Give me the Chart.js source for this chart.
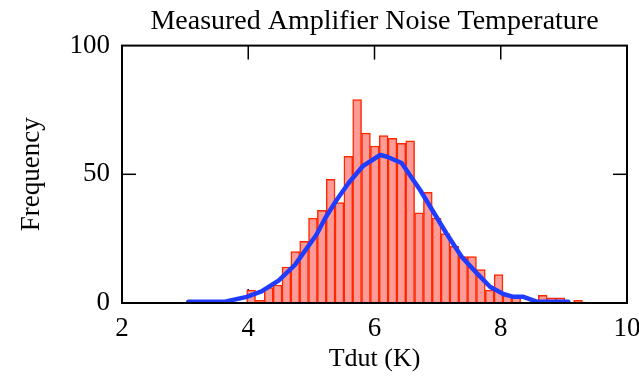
<!DOCTYPE html>
<html><head><meta charset="utf-8">
<script src="https://cdn.jsdelivr.net/npm/chart.js@4"></script>
<style>html,body{margin:0;padding:0;background:#fff}#wrap{width:639px;height:376px}</style>
</head><body><div id="wrap"><canvas id="c" width="639" height="376"></canvas></div>
<script>
// Histogram bin centres (K) and counts
const binCenters = [3.205, 3.345, 3.485, 3.625, 3.765, 3.905, 4.045, 4.185, 4.325, 4.465, 4.605,
  4.745, 4.885, 5.025, 5.165, 5.305, 5.445, 5.585, 5.725, 5.865, 6.005, 6.145, 6.285, 6.425,
  6.565, 6.705, 6.845, 6.985, 7.125, 7.265, 7.405, 7.545, 7.685, 7.825, 7.965, 8.105, 8.245,
  8.385, 8.525, 8.665, 8.805, 8.945, 9.085, 9.225];
const counts = [1, 0, 0, 0, 0, 0, 5, 1, 6, 7, 14, 20, 24, 33, 36, 48, 39, 57, 79, 66, 61, 65, 64,
  62, 63, 35, 43, 33, 27, 22, 18, 18, 13, 5, 11, 3, 2, 0, 0, 3, 2, 2, 0, 1];
// Fitted curve (blue)
const fitX = [3.05, 3.63, 3.975, 4.21, 4.48, 4.74, 5.08, 5.22, 5.40, 5.59, 5.82, 6.09, 6.19, 6.43,
  6.72, 7.14, 7.38, 7.62, 7.83, 8.04, 8.20, 8.36, 8.57, 9.07];
const fitY = [0.5, 0.5, 2.4, 4.5, 8.7, 14.8, 26.5, 33, 40, 46.6, 53.3, 57.5, 56.9, 54.4,
  44, 27, 18, 11.6, 6.3, 3.5, 2.4, 2.4, 0.5, 0.5];
const xTickValues = [2, 4, 6, 8, 10];
const yTickValues = [0, 50, 100];

const FONT = "'Liberation Serif', 'Times New Roman', serif";

const frame = {
  id: 'frame',
  beforeDatasetsDraw(chart) {
    const {ctx, chartArea: a, scales: {x, y}} = chart;
    ctx.save();
    ctx.strokeStyle = '#000';
    ctx.lineWidth = 1.5;
    const L = 14;
    const seg = (x1, y1, x2, y2) => { ctx.beginPath(); ctx.moveTo(x1, y1); ctx.lineTo(x2, y2); ctx.stroke(); };
    x.ticks.forEach(t => {
      const px = x.getPixelForValue(t.value);
      if (px <= a.left + 1 || px >= a.right - 1) return;
      seg(px, a.bottom, px, a.bottom - L);
      seg(px, a.top, px, a.top + L);
    });
    y.ticks.forEach(t => {
      const py = y.getPixelForValue(t.value);
      if (py <= a.top + 1 || py >= a.bottom - 1) return;
      seg(a.left, py, a.left + L, py);
      seg(a.right, py, a.right - L, py);
    });
    ctx.restore();
  },
  afterDatasetsDraw(chart) {
    const {ctx, chartArea: a} = chart;
    ctx.save();
    ctx.strokeStyle = '#000';
    ctx.lineWidth = 2;
    ctx.strokeRect(a.left, a.top, a.right - a.left, a.bottom - a.top);
    ctx.restore();
  }
};

new Chart(document.getElementById('c'), {
  type: 'bar',
  data: {
    datasets: [
      {
        type: 'line',
        data: fitX.map((v, i) => ({x: v, y: fitY[i]})),
        borderColor: '#1f3cff',
        borderWidth: 4.5,
        pointRadius: 0,
        tension: 0,
        fill: false,
        borderJoinStyle: 'round',
        borderCapStyle: 'round',
        order: 0
      },
      {
        type: 'bar',
        data: binCenters.map((v, i) => ({x: v, y: counts[i]})),
        backgroundColor: 'rgb(255,155,150)',
        borderColor: 'rgb(255,40,0)',
        borderWidth: 1.5,
        barPercentage: 1,
        categoryPercentage: 1,
        order: 1
      }
    ]
  },
  options: {
    responsive: false,
    animation: false,
    layout: {padding: {left: 0, top: 0, bottom: 0, right: 12}},
    plugins: {
      legend: {display: false},
      tooltip: {enabled: false},
      title: {
        display: true,
        text: 'Measured Amplifier Noise Temperature',
        color: '#000',
        font: {family: FONT, size: 28, weight: 'normal'},
        padding: {top: 5, bottom: 7},
        fullSize: false
      }
    },
    scales: {
      x: {
        type: 'linear',
        min: 2, max: 10,
        offset: false,
        afterBuildTicks: s => { s.ticks = xTickValues.map(v => ({value: v})); },
        afterFit: s => { s.height = 73; s.paddingRight = 0; s.paddingLeft = 0; },
        grid: {display: false, drawTicks: false, offset: false},
        border: {display: false},
        ticks: {color: '#000', padding: 10, maxRotation: 0, font: {family: FONT, size: 27}},
        title: {display: true, text: 'Tdut (K)', color: '#000', font: {family: FONT, size: 26}, padding: {top: 0, bottom: 1}}
      },
      y: {
        min: 0, max: 100,
        afterBuildTicks: s => { s.ticks = yTickValues.map(v => ({value: v})); },
        afterFit: s => { s.width = 122; },
        grid: {display: false, drawTicks: false},
        border: {display: false},
        ticks: {color: '#000', padding: 12, font: {family: FONT, size: 27}},
        title: {display: true, text: 'Frequency', color: '#000', font: {family: FONT, size: 27}, padding: {top: 16, bottom: 0}}
      }
    }
  },
  plugins: [frame]
});
</script>
</body></html>
